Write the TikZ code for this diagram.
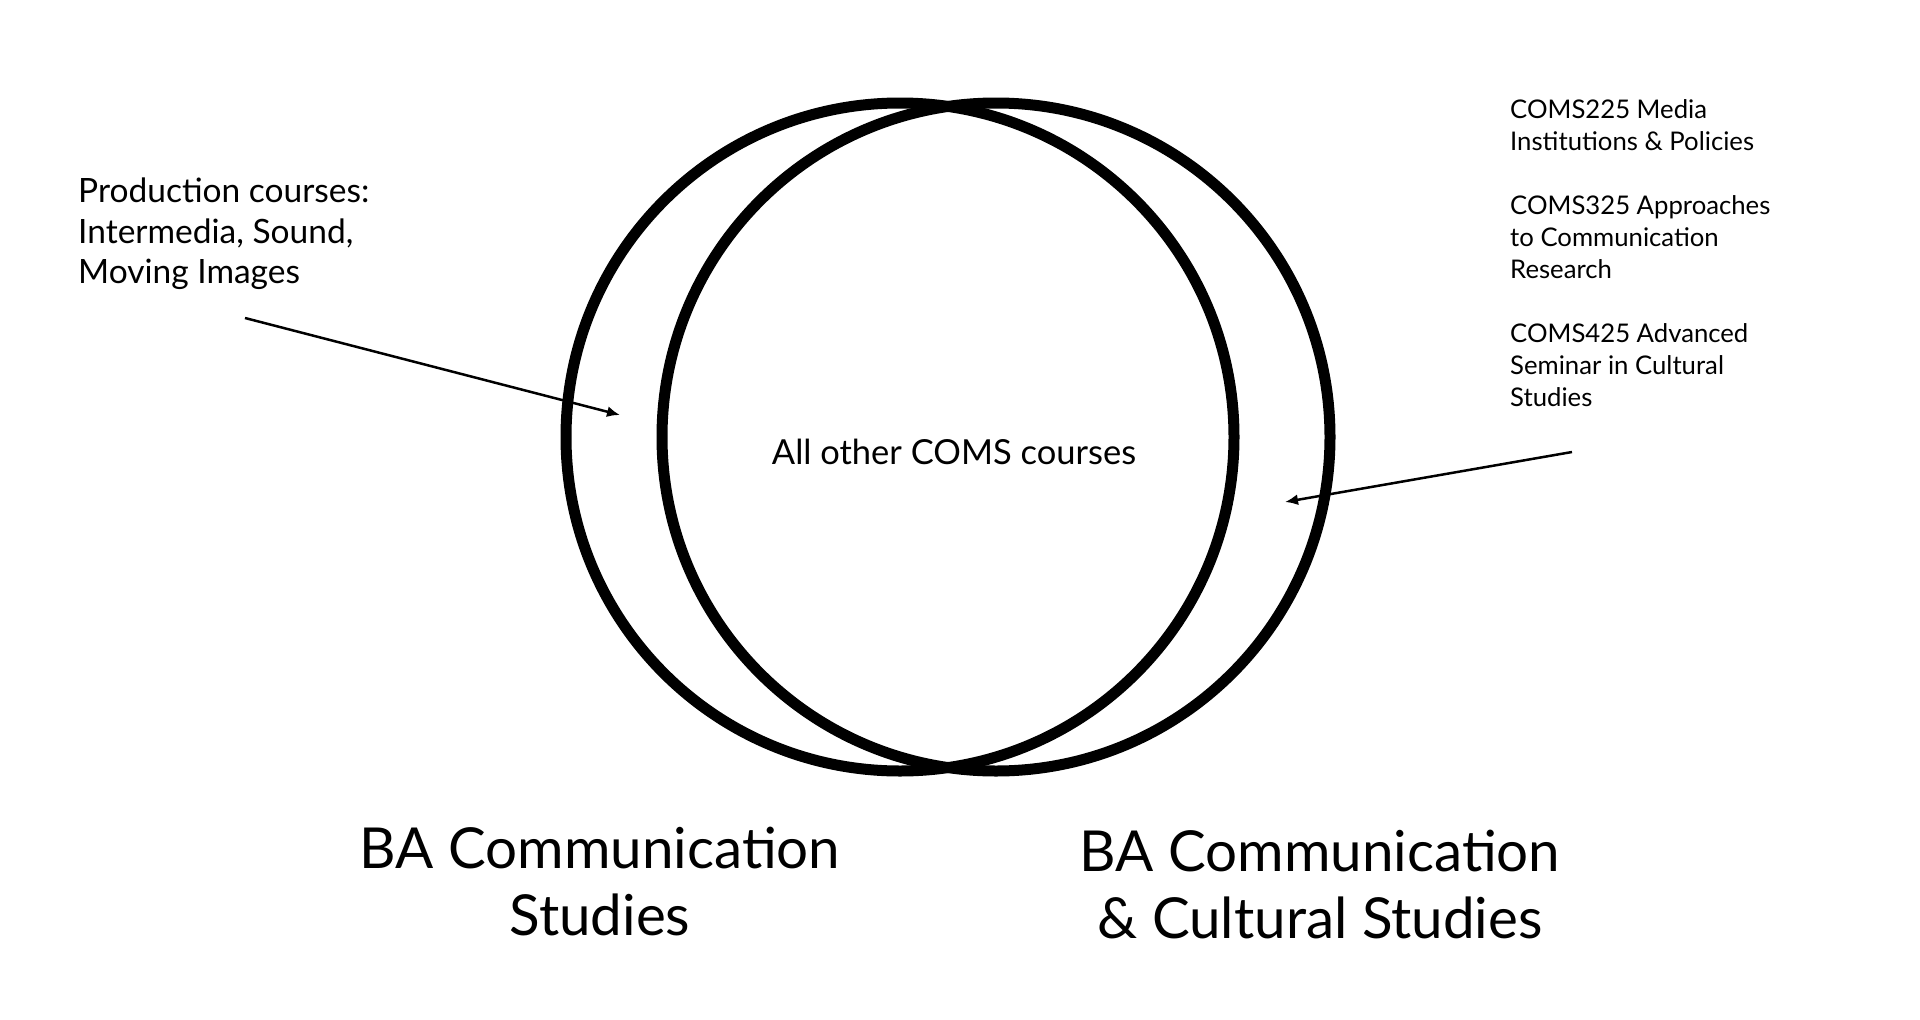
\documentclass[tikz,border=0pt]{standalone}
\usepackage{fontspec}
\setmainfont{Lato}
\usetikzlibrary{arrows.meta,positioning}
\tikzset{
	ring/.style={draw,circle,line width=11pt,minimum size=668pt,inner sep=0pt},
	label/.style={inner sep=0pt,align=left,font=\fontsize{33.5}{40.5}\selectfont},
	courses/.style={inner sep=0pt,align=left,font=\fontsize{25.7}{32}\selectfont},
	degree/.style={inner sep=0pt,align=center,font=\fontsize{56.5}{67}\selectfont},
	pointer/.style={line width=2.5pt,-{Latex[length=13pt,width=11pt]}}
}
\begin{document}
\begin{tikzpicture}[x=1pt,y=-1pt]
	\useasboundingbox (0,0) rectangle (1920,1020);
	\node[ring] (comm) at (900,437) {};
	\node[ring] (cult) at (996,437) {};
	\node[label,font=\fontsize{34.5}{40.5}\selectfont] (core) at (954,452) {All other COMS courses};
	\node[label,anchor=north west] (prod) at (78,178) {Production courses:\\Intermedia, Sound,\\Moving Images};
	\node[courses,anchor=north west] (coms) at (1510,99) {COMS225 Media\\Institutions \& Policies\\[32pt]COMS325 Approaches\\to Communication\\Research\\[32pt]COMS425 Advanced\\Seminar in Cultural\\Studies};
	\node[degree] (ba) at (600,882) {BA Communication\\Studies};
	\node[degree] (bacs) at (1320,885) {BA Communication\\\& Cultural Studies};
	\coordinate (prodtail) at (245,318);
	\coordinate (prodhead) at (620,415);
	\coordinate (comstail) at (1572,452);
	\coordinate (comshead) at (1285,502);
	\draw[pointer] (prodtail) -- (prodhead);
	\draw[pointer] (comstail) -- (comshead);
\end{tikzpicture}
\end{document}
